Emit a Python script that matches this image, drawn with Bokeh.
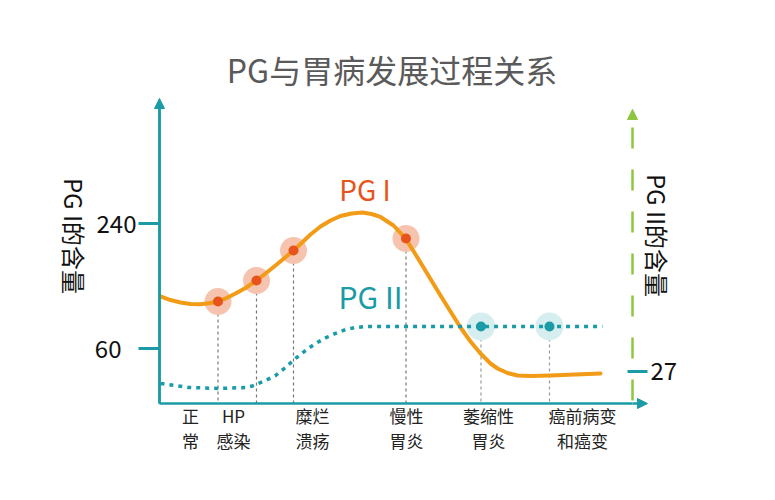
from math import pi

from bokeh.plotting import figure
from bokeh.models import Range1d, LinearAxis, FixedTicker, Arrow, NormalHead, Label
from bokeh.embed import file_html
from bokeh.resources import INLINE

FONT = "Noto Sans CJK SC"
TEAL = "#1a9ba6"
ORANGE = "#f29b17"
RED = "#e8531b"
GREEN = "#8dc63f"

title = "PG与胃病发展过程关系"

# disease stages along the x axis (label centres)
stages = ["正\n常", "HP\n感染", "糜烂\n溃疡", "慢性\n胃炎", "萎缩性\n胃炎", "癌前病变\n和癌变"]
stage_x = [31, 74, 153, 247, 329, 423]

# PG I curve (left axis)
pg1_x = [1, 11, 21, 31, 41, 51, 58, 67, 76, 86, 97, 106, 116, 125, 134, 141, 151,
         161, 171, 181, 192, 203, 212, 221, 234, 246, 253, 261, 271, 281, 291, 301,
         311, 321, 331, 338, 348, 358, 371, 391, 416, 441]
pg1_y = [134.9, 129.8, 126.2, 124.1, 123.6, 125.5, 127.7, 132.7, 139.2, 147.1, 157.9,
         168.0, 179.5, 190.3, 201.1, 210.5, 224.2, 235.7, 244.3, 250.8, 254.4, 255.8,
         253.7, 249.4, 237.1, 218.4, 202.6, 183.8, 160.1, 136.3, 113.3, 90.2, 70.1,
         52.8, 38.4, 31.2, 24.7, 21.1, 20.4, 21.1, 22.6, 24.0]

# PG II curve (right axis)
pg2_x = [1, 29, 59, 86, 93, 99, 106, 116, 126, 136, 146, 156, 166, 176, 186, 196,
         206, 443]
pg2_y = [16.9, 13.5, 12.7, 13.5, 14.8, 16.9, 19.4, 23.6, 30.4, 38.0, 44.7, 50.6,
         55.3, 59.1, 62.4, 64.1, 65.0, 65.0]

# marked stages on each curve
pg1_pts_x = [58.5, 97, 134, 246.5]
pg1_pts_y = [127.7, 157.9, 201.1, 218.4]
pg2_pts_x = [321.5, 390]
pg2_pts_y = [65.0, 65.0]

left_ticks = [240, 60]
right_ticks = [27]

# axis extents
x0, x1 = 0, 473
y0, y1 = -19.2, 405.6
r1 = 248.9

p = figure(width=770, height=495, output_backend="svg", toolbar_location=None,
           x_range=Range1d(-159, 611), y_range=Range1d(-151.68, 561.12),
           min_border=0, outline_line_color=None, background_fill_color="white")
p.grid.visible = False
p.extra_y_ranges = {"pg2": Range1d(-77.625, 340.03)}


def style_left(ax, tick, standoff):
    ax.fixed_location = x0
    ax.bounds = (y0, y1)
    ax.ticker = FixedTicker(ticks=[tick])
    ax.minor_tick_line_color = None
    ax.major_tick_in = 0
    ax.major_tick_out = 21
    ax.major_tick_line_color = TEAL
    ax.major_tick_line_width = 3
    ax.axis_line_color = TEAL
    ax.axis_line_width = 2.5
    ax.major_label_text_font = FONT
    ax.major_label_text_font_size = "24px"
    ax.major_label_text_color = "#111111"
    ax.major_label_standoff = standoff


# left axis: labels are left-aligned in the original, so "60" sits further out
style_left(p.yaxis[0], left_ticks[0], 2)
ya2 = LinearAxis()
style_left(ya2, left_ticks[1], 17)
p.add_layout(ya2, "left")

# bottom axis with stage names
xa = p.xaxis[0]
xa.fixed_location = y0
xa.bounds = (x0, x1)
xa.ticker = FixedTicker(ticks=stage_x)
xa.major_label_overrides = {x: s for x, s in zip(stage_x, stages)}
xa.major_tick_line_color = None
xa.minor_tick_line_color = None
xa.axis_line_color = TEAL
xa.axis_line_width = 2.5
xa.major_label_text_font = FONT
xa.major_label_text_font_size = "17px"
xa.major_label_text_line_height = 1.03
xa.major_label_text_color = "#222222"
xa.major_label_standoff = -7

# right axis for PG II
ra = LinearAxis(y_range_name="pg2", ticker=FixedTicker(ticks=right_ticks),
                fixed_location=x1, bounds=(0, r1))
ra.minor_tick_line_color = None
ra.major_tick_in = 5
ra.major_tick_out = 15
ra.major_tick_line_color = TEAL
ra.major_tick_line_width = 3
ra.axis_line_color = GREEN
ra.axis_line_width = 2.5
ra.axis_line_dash = "21 21"
ra.axis_line_dash_offset = 39
ra.major_label_text_font = FONT
ra.major_label_text_font_size = "24px"
ra.major_label_text_color = "#111111"
ra.major_label_standoff = 3
p.add_layout(ra, "right")

# axis arrow heads
p.add_layout(Arrow(end=NormalHead(size=10, fill_color=TEAL, line_color=TEAL),
                   x_start=x0, y_start=y1, x_end=x0, y_end=y1 + 14.4,
                   line_color=TEAL, line_width=2.5))
p.add_layout(Arrow(end=NormalHead(size=10, fill_color=TEAL, line_color=TEAL),
                   x_start=x1, y_start=y0, x_end=x1 + 15, y_end=y0,
                   line_color=TEAL, line_width=2.5))
p.add_layout(Arrow(end=NormalHead(size=10, fill_color=GREEN, line_color=GREEN),
                   x_start=x1, y_start=y1 - 14.4, x_end=x1, y_end=y1 - 1.4,
                   line_color=None))

# guide lines down to the axis
p.segment(x0=pg1_pts_x, y0=pg1_pts_y, x1=pg1_pts_x, y1=y0,
          line_color="#777777", line_width=1.2, line_dash="3 3")
p.segment(x0=pg2_pts_x, y0=pg2_pts_y, x1=pg2_pts_x, y1=0, y_range_name="pg2",
          line_color="#999999", line_width=1.2, line_dash="3 3")

# halos
p.scatter(pg1_pts_x, pg1_pts_y, size=27, fill_color="#f6c3ae", line_color=None)
p.scatter(pg2_pts_x, pg2_pts_y, size=28, fill_color="#d6eef0", line_color=None,
          y_range_name="pg2")

# curves
p.line(pg1_x, pg1_y, line_color=ORANGE, line_width=4, line_cap="round", line_join="round")
p.line(pg2_x, pg2_y, line_color=TEAL, line_width=3.5, line_dash="4 5", y_range_name="pg2")

# dots
p.scatter(pg1_pts_x, pg1_pts_y, size=10, fill_color=RED, line_color=None)
p.scatter(pg2_pts_x, pg2_pts_y, size=10, fill_color=TEAL, line_color=None,
          y_range_name="pg2")

# texts
p.add_layout(Label(x=232.5, y=463, text=title, text_font=FONT, text_font_size="32px",
                   text_color="#5a5a5a", text_align="center", text_baseline="middle"))
p.add_layout(Label(x=205.5, y=290, text="PG I", text_font=FONT, text_font_size="28px",
                   text_color=RED, text_align="center", text_baseline="middle"))
p.add_layout(Label(x=211, y=135, text="PG II", text_font=FONT, text_font_size="30px",
                   text_color=TEAL, text_align="center", text_baseline="middle"))
p.add_layout(Label(x=-85.5, y=222, angle=-pi / 2, text="PG I的含量", text_font=FONT,
                   text_font_size="24px", text_color="#111111",
                   text_align="center", text_baseline="middle"))
p.add_layout(Label(x=498, y=222.7, angle=-pi / 2, text="PG II的含量", text_font=FONT,
                   text_font_size="24px", text_color="#111111",
                   text_align="center", text_baseline="middle"))

open("out.html", "w").write(file_html(p, INLINE, title=title))
